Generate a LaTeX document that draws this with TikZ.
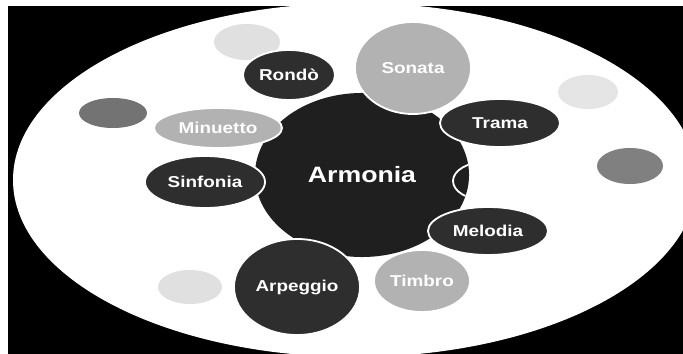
\documentclass[tikz,border=0pt]{standalone}
\usepackage{fontspec}
\newfontfamily\lblfont[FakeStretch=1.2]{Liberation Sans}
\usetikzlibrary{shapes.geometric}

\begin{document}
\begin{tikzpicture}[x=0.025cm, y=-0.025cm,
    blob/.style 2 args={ellipse, inner sep=0pt, minimum width=#1*0.05cm, minimum height=#2*0.05cm},
    dark/.style={fill=black!82, draw=white, line width=1.3pt},
    light/.style={fill=black!30, draw=white, line width=1.3pt},
    spot/.style={fill=black!#1},
    lbl/.style={text=white, font=\lblfont\bfseries\fontsize{11.2}{13}\selectfont}]
    \useasboundingbox (0,0) rectangle (683,354);
    \fill[white] (0,0) rectangle (683,354);
    \fill[black] (8,6) rectangle (683,354);
    \begin{scope}
        \clip (8,6) rectangle (683,354);
        \fill[white] (355,180) ellipse [x radius=342, y radius=177];
    \end{scope}
    % background spots
    \node[blob={33}{18}, spot=12] (spotTL) at (247,42) {};
    \node[blob={34}{15}, spot=55] (spotL) at (113,113) {};
    \node[blob={30}{17}, spot=10] (spotTR) at (588,92) {};
    \node[blob={33}{18}, spot=50] (spotR) at (630,166) {};
    \node[blob={32}{17}, spot=12] (spotBL) at (190,287) {};
    % centre
    \node[blob={107}{82}, fill=black!88, text=white,
          font=\lblfont\bfseries\fontsize{15.8}{18}\selectfont] (arm) at (362,175) {Armonia};
    \begin{scope}
        \clip (362,175) ellipse [x radius=107, y radius=82];
        \draw[white, line width=1.3pt] (485,181) ellipse [x radius=32, y radius=19];
    \end{scope}
    % satellites
    \node[blob={46}{25}, dark, lbl] (rondo) at (289,75) {Rondò};
    \node[blob={58}{46}, light, lbl] (sonata) at (413,68) {Sonata};
    \node[blob={64}{20}, light, lbl] (minuetto) at (218,128) {Minuetto};
    \node[blob={60}{24}, dark, lbl] (trama) at (500,123) {Trama};
    \node[blob={60}{26}, dark, lbl] (sinfonia) at (205,182) {Sinfonia};
    \node[blob={60}{24}, dark, lbl] (melodia) at (488,231) {Melodia};
    \node[blob={48}{31}, light, lbl] (timbro) at (422,281) {Timbro};
    \node[blob={63}{48}, dark, lbl] (arpeggio) at (297,287) {Arpeggio};
\end{tikzpicture}
\end{document}
